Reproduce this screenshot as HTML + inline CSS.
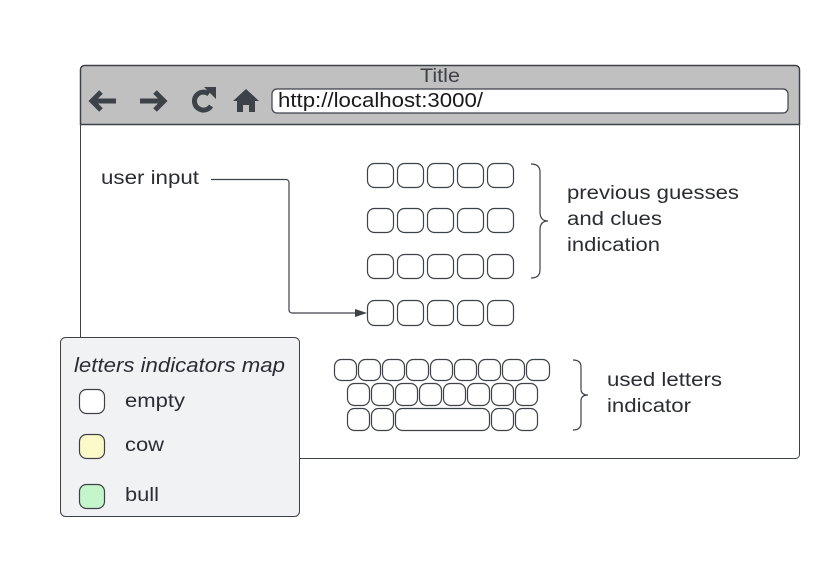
<!DOCTYPE html>
<html><head><meta charset="utf-8"><style>
html,body{margin:0;padding:0;background:#fff;}
svg{display:block;font-family:"Liberation Sans",sans-serif;}
</style></head><body>
<svg width="840" height="567" viewBox="0 0 840 567">
<rect x="80.5" y="65.5" width="719" height="393" rx="4" fill="#fff" stroke="#3d4148" stroke-width="1"/>
<path d="M80.5,124.5 V69.5 a4,4 0 0 1 4,-4 H795.5 a4,4 0 0 1 4,4 V124.5 Z" fill="#c0c0c0" stroke="#3d4148" stroke-width="1.5"/>
<text x="420" y="82" font-size="19" fill="#3d4148" textLength="40" lengthAdjust="spacingAndGlyphs">Title</text>
<rect x="272" y="89" width="516" height="24" rx="5" fill="#fff" stroke="#3d4148" stroke-width="1.2"/>
<text x="278" y="107" font-size="20" fill="#1a1a1a" textLength="205" lengthAdjust="spacingAndGlyphs">http://localhost:3000/</text>
<g fill="none" stroke="#3d4148" stroke-width="5" stroke-linecap="butt">
<path d="M116,101 H92 M101,92 L92,101 L101,110"/>
<path d="M140,101 H164 M155,92 L164,101 L155,110"/>
<path d="M209,94 A9,9 0 1 0 211,106"/>
</g>
<path d="M204,87 L216,87 L216,99 Z" fill="#3d4148"/>
<path d="M246,89 L259,101 L255,101 L255,112 L249,112 L249,105 L243,105 L243,112 L237,112 L237,101 L233,101 Z" fill="#3d4148"/>
<text x="101" y="184" font-size="19" fill="#2a2d33" textLength="98" lengthAdjust="spacingAndGlyphs">user input</text>
<path d="M211,179.5 H286 a3,3 0 0 1 3,3 V310 a3,3 0 0 0 3,3 H356" fill="none" stroke="#3d4148" stroke-width="1.2"/>
<path d="M367,313 L355,309 L355,317 Z" fill="#3d4148"/>
<g fill="#fff" stroke="#3d4148" stroke-width="1.2">
<rect x="367.5" y="163.5" width="26" height="24" rx="7"/><rect x="397.5" y="163.5" width="26" height="24" rx="7"/><rect x="427.5" y="163.5" width="26" height="24" rx="7"/><rect x="457.5" y="163.5" width="26" height="24" rx="7"/><rect x="487.5" y="163.5" width="26" height="24" rx="7"/>
<rect x="367.5" y="208.5" width="26" height="24" rx="7"/><rect x="397.5" y="208.5" width="26" height="24" rx="7"/><rect x="427.5" y="208.5" width="26" height="24" rx="7"/><rect x="457.5" y="208.5" width="26" height="24" rx="7"/><rect x="487.5" y="208.5" width="26" height="24" rx="7"/>
<rect x="367.5" y="254.5" width="26" height="24" rx="7"/><rect x="397.5" y="254.5" width="26" height="24" rx="7"/><rect x="427.5" y="254.5" width="26" height="24" rx="7"/><rect x="457.5" y="254.5" width="26" height="24" rx="7"/><rect x="487.5" y="254.5" width="26" height="24" rx="7"/>
<rect x="367.5" y="300.5" width="26" height="25" rx="7"/><rect x="397.5" y="300.5" width="26" height="25" rx="7"/><rect x="427.5" y="300.5" width="26" height="25" rx="7"/><rect x="457.5" y="300.5" width="26" height="25" rx="7"/><rect x="487.5" y="300.5" width="26" height="25" rx="7"/>
</g>
<path d="M531,164 Q540,164 540,172 V212 Q540,221 548,221 Q540,221 540,230 V270 Q540,278 531,278" fill="none" stroke="#3d4148" stroke-width="1.2"/>
<g font-size="19" fill="#2a2d33">
<text x="567" y="199" textLength="172" lengthAdjust="spacingAndGlyphs">previous guesses</text>
<text x="567" y="225" textLength="95" lengthAdjust="spacingAndGlyphs">and clues</text>
<text x="567" y="251" textLength="93" lengthAdjust="spacingAndGlyphs">indication</text>
</g>
<g fill="#fff" stroke="#3d4148" stroke-width="1.2">
<rect x="334.5" y="359.5" width="22" height="21" rx="7"/><rect x="358.5" y="359.5" width="22" height="21" rx="7"/><rect x="382.5" y="359.5" width="22" height="21" rx="7"/><rect x="406.5" y="359.5" width="22" height="21" rx="7"/><rect x="430.5" y="359.5" width="22" height="21" rx="7"/><rect x="454.5" y="359.5" width="22" height="21" rx="7"/><rect x="478.5" y="359.5" width="22" height="21" rx="7"/><rect x="502.5" y="359.5" width="22" height="21" rx="7"/><rect x="526.5" y="359.5" width="23" height="21" rx="7"/>
<rect x="347.5" y="383.5" width="22" height="22" rx="7"/><rect x="371.5" y="383.5" width="22" height="22" rx="7"/><rect x="395.5" y="383.5" width="22" height="22" rx="7"/><rect x="419.5" y="383.5" width="22" height="22" rx="7"/><rect x="443.5" y="383.5" width="22" height="22" rx="7"/><rect x="467.5" y="383.5" width="22" height="22" rx="7"/><rect x="491.5" y="383.5" width="22" height="22" rx="7"/><rect x="515.5" y="383.5" width="22" height="22" rx="7"/>
<rect x="347.5" y="408.5" width="22" height="22" rx="7"/><rect x="371.5" y="408.5" width="22" height="22" rx="7"/><rect x="395.5" y="408.5" width="94" height="22" rx="7"/><rect x="491.5" y="408.5" width="22" height="22" rx="7"/><rect x="515.5" y="408.5" width="22" height="22" rx="7"/>
</g>
<path d="M573,360 Q581,360 581,367 V389 Q581,395 588,395 Q581,395 581,401 V423 Q581,430 573,430" fill="none" stroke="#3d4148" stroke-width="1.2"/>
<g font-size="19" fill="#2a2d33">
<text x="607" y="386" textLength="115" lengthAdjust="spacingAndGlyphs">used letters</text>
<text x="607" y="412" textLength="84" lengthAdjust="spacingAndGlyphs">indicator</text>
</g>
<rect x="60.5" y="337.5" width="239" height="179" rx="5" fill="#f1f2f4" stroke="#3d4148" stroke-width="1"/>
<text x="74" y="372" font-size="20" font-style="italic" fill="#2a2d33" textLength="211" lengthAdjust="spacingAndGlyphs">letters indicators map</text>
<rect x="79.5" y="389.5" width="25" height="24" rx="7" fill="#fff" stroke="#3d4148" stroke-width="1.2"/>
<text x="125" y="407" font-size="19" fill="#2a2d33" textLength="60" lengthAdjust="spacingAndGlyphs">empty</text>
<rect x="79.5" y="434.5" width="25" height="24" rx="7" fill="#fbfac8" stroke="#3d4148" stroke-width="1.2"/>
<text x="125" y="451" font-size="19" fill="#2a2d33" textLength="39" lengthAdjust="spacingAndGlyphs">cow</text>
<rect x="79.5" y="484.5" width="25" height="24" rx="7" fill="#c5f5cb" stroke="#3d4148" stroke-width="1.2"/>
<text x="125" y="501" font-size="19" fill="#2a2d33" textLength="34" lengthAdjust="spacingAndGlyphs">bull</text>
</svg>
</body></html>
